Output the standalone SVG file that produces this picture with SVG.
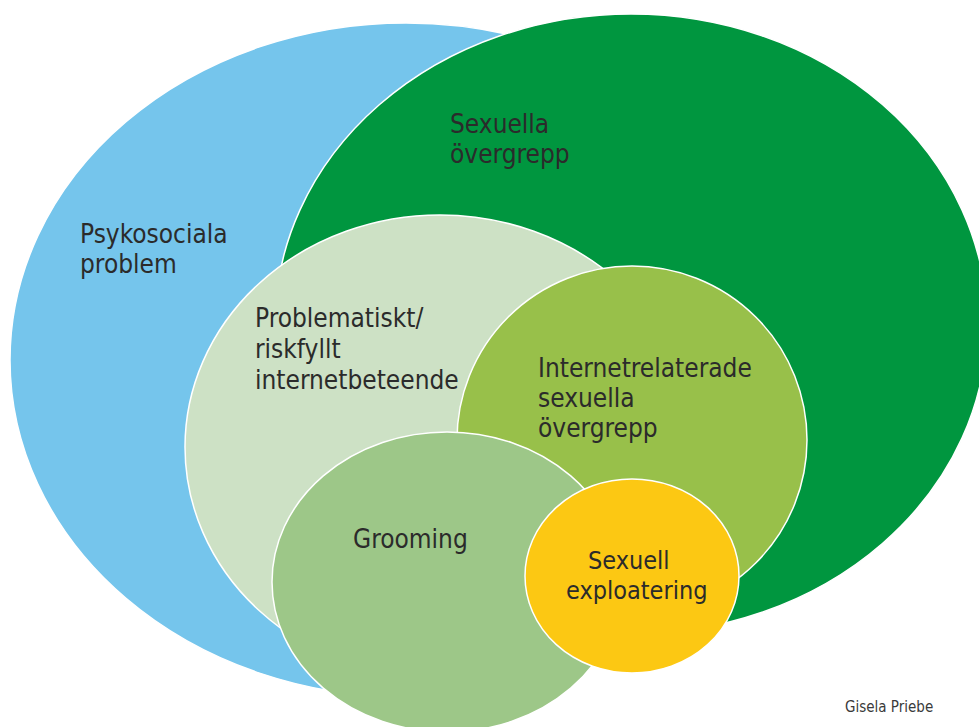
<svg xmlns="http://www.w3.org/2000/svg" width="979" height="727" viewBox="0 0 979 727">
<style>
.shape{stroke:#ffffff;stroke-width:1.5}
.lbl{font-family:"DejaVu Sans Condensed","DejaVu Sans",sans-serif;font-size:26px;fill:#2b2b2b}
.sm{font-size:25px}
.sig{font-family:"DejaVu Sans Condensed","DejaVu Sans",sans-serif;font-size:15px;fill:#3a3a3a}
</style>
<rect width="979" height="727" fill="#ffffff"/>
<g id="psykosociala">
<ellipse class="shape" cx="406" cy="360" rx="396" ry="337" fill="#75C5EC"/>
<text class="lbl" x="80" y="243">Psykosociala</text>
<text class="lbl" x="80" y="273">problem</text>
</g>
<g id="sexuella-overgrepp">
<ellipse class="shape" cx="631" cy="324" rx="356" ry="310" fill="#00963F"/>
<text class="lbl" x="450" y="133">Sexuella</text>
<text class="lbl" x="450" y="163">övergrepp</text>
</g>
<g id="problematiskt">
<ellipse class="shape" cx="440" cy="447" rx="255" ry="232" fill="#CDE1C5"/>
<text class="lbl" x="255" y="327">Problematiskt/</text>
<text class="lbl" x="255" y="358">riskfyllt</text>
<text class="lbl" x="255" y="389">internetbeteende</text>
</g>
<g id="internetrelaterade">
<ellipse class="shape" cx="632" cy="440" rx="175" ry="174" fill="#98C04A"/>
<text class="lbl" x="538" y="377">Internetrelaterade</text>
<text class="lbl" x="538" y="407">sexuella</text>
<text class="lbl" x="538" y="437">övergrepp</text>
</g>
<g id="grooming">
<ellipse class="shape" cx="447" cy="582" rx="175" ry="150" fill="#9DC788"/>
<text class="lbl" x="353" y="548">Grooming</text>
</g>
<g id="sexuell-exploatering">
<ellipse class="shape" cx="632" cy="576" rx="107" ry="97" fill="#FCC813"/>
<text class="lbl sm" x="588" y="569">Sexuell</text>
<text class="lbl sm" x="566" y="599">exploatering</text>
</g>
<g id="connectors"></g>
<text class="sig" x="845" y="712">Gisela Priebe</text>
</svg>
